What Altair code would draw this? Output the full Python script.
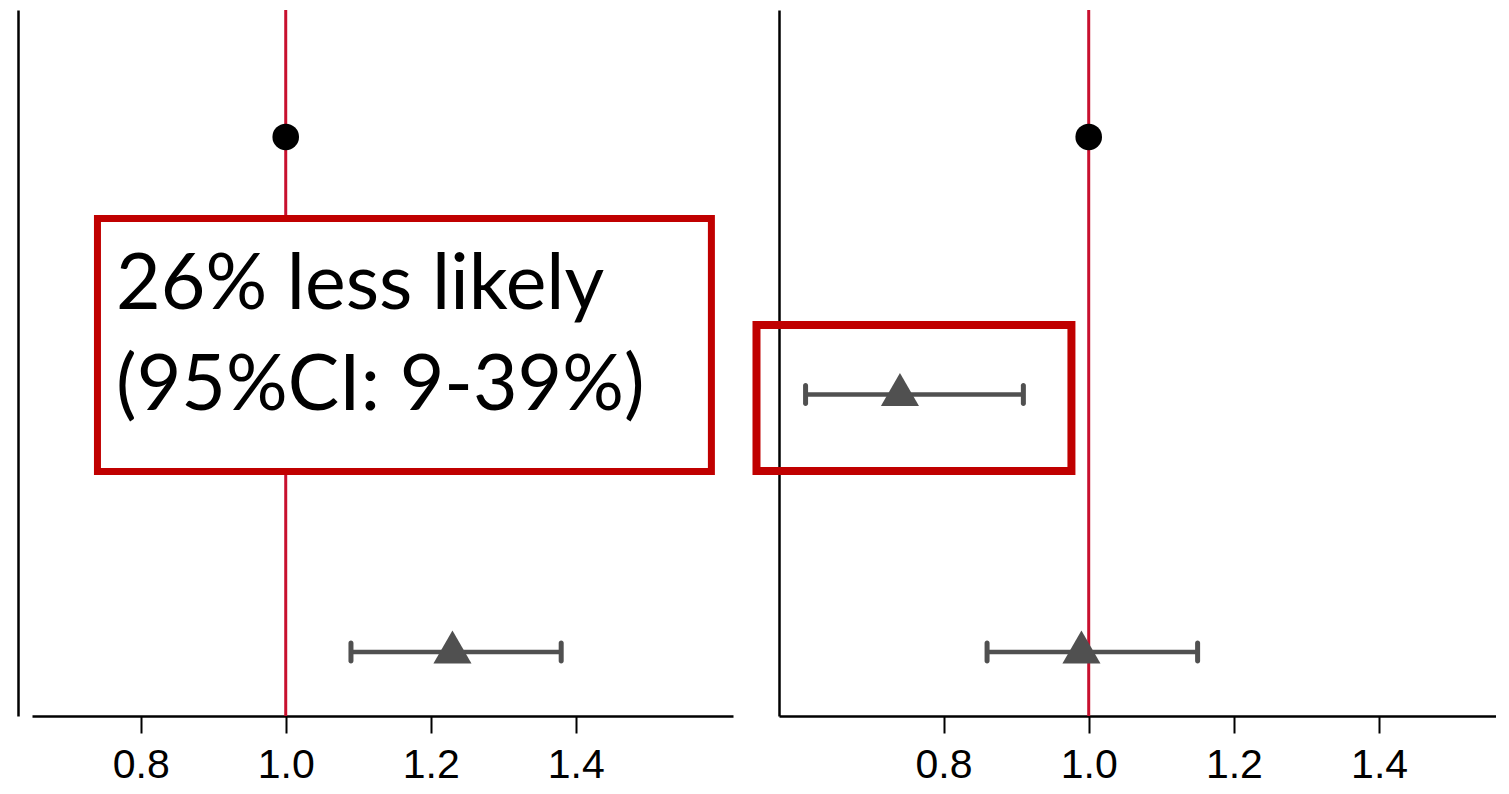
import altair as alt
import pandas as pd

# ---- data ----
row_names = ["Reference", "Middle", "Bottom"]
row_pos = [3, 2, 1]

left_ref_est = [1.0]
left_ref_row = [3]
left_est = [1.23]
left_lo = [1.09]
left_hi = [1.38]
left_row = [1]

right_ref_est = [1.0]
right_ref_row = [3]
right_est = [0.74, 0.99]
right_lo = [0.61, 0.86]
right_hi = [0.91, 1.15]
right_row = [2, 1]

tick_values = [0.8, 1.0, 1.2, 1.4]
left_domain = [0.65, 1.617]
right_domain = [0.5734, 1.561]
y_domain = [0.7515, 3.493]

note_lines = ["26% less likely", "(95%CI: 9-39%)"]
note_x = [0.766, 0.766]
note_y = [2.332, 1.940]

left_box = {"x": [0.7403], "x2": [1.5872], "y": [1.701], "y2": [2.6836]}
right_box = {"x": [0.5424], "x2": [0.9762], "y": [1.703], "y2": [2.270]}

RED_LINE = "#C8102E"
BOX_RED = "#C00000"
GREY = "#505050"


def panel(ref_est, ref_row, est, lo, hi, rows, xdom, width, box, box_fill, yoffset, note=False):
    xs = alt.Scale(domain=xdom, nice=False, zero=False)
    ys = alt.Scale(domain=y_domain, nice=False, zero=False)
    xaxis = alt.Axis(values=tick_values, format=".1f", title=None, grid=False,
                     tickSize=17, tickWidth=2, tickColor="black",
                     domainColor="black", domainWidth=2.5,
                     labelFontSize=41, labelFont="Liberation Sans",
                     labelColor="black", labelPadding=12)
    yaxis = alt.Axis(labels=False, ticks=False, title=None, grid=False,
                     domainColor="black", domainWidth=2.5, offset=yoffset)

    def X(f):
        return alt.X(f, type="quantitative", scale=xs, axis=xaxis)

    def Y(f):
        return alt.Y(f, type="quantitative", scale=ys, axis=yaxis)

    ref_df = pd.DataFrame({"est": ref_est, "row": ref_row})
    ci_df = pd.DataFrame({"est": est, "lo": lo, "hi": hi, "row": rows})
    caps_df = pd.DataFrame({"v": lo + hi, "row": rows + rows})
    box_df = pd.DataFrame(box)

    refline = alt.Chart(pd.DataFrame({"x": [1.0]})).mark_rule(
        color=RED_LINE, strokeWidth=3).encode(x=X("x"))
    circ = alt.Chart(ref_df).mark_circle(size=707, color="black", opacity=1).encode(
        x=X("est"), y=Y("row"))
    bars = alt.Chart(ci_df).mark_rule(color=GREY, strokeWidth=4.5).encode(
        x=X("lo"), x2="hi", y=Y("row"))
    caps = alt.Chart(caps_df).mark_tick(orient="vertical", size=23, thickness=5,
                                        color=GREY, opacity=1, cornerRadius=2.5).encode(
        x=X("v"), y=Y("row"))
    tri = alt.Chart(ci_df).mark_point(shape="triangle-up", filled=True, size=1450,
                                      color=GREY, opacity=1, yOffset=-5).encode(
        x=X("est"), y=Y("row"))
    if box_fill:
        rect = alt.Chart(box_df).mark_rect(fill="white", stroke=BOX_RED, strokeWidth=7)
    else:
        rect = alt.Chart(box_df).mark_rect(fill="white", fillOpacity=0, stroke=BOX_RED,
                                           strokeWidth=8)
    rect = rect.encode(x=X("x"), x2="x2", y=Y("y"), y2="y2")

    layers = [refline, circ, bars, caps, tri, rect]
    if note:
        note_df = pd.DataFrame({"t": note_lines, "x": note_x, "y": note_y})
        txt = alt.Chart(note_df).mark_text(align="left", baseline="alphabetic",
                                           font="Lato", fontSize=77, color="black").encode(
            x=X("x"), y=Y("y"), text="t:N")
        layers.append(txt)
    return alt.layer(*layers).properties(width=width, height=706)


left = panel(left_ref_est, left_ref_row, left_est, left_lo, left_hi, left_row,
             left_domain, 701, left_box, True, 14, note=True)
right = panel(right_ref_est, right_ref_row, right_est, right_lo, right_hi, right_row,
              right_domain, 717, right_box, False, 0)

chart = alt.hconcat(left, right, spacing=19).properties(
    padding={"left": 10, "top": 0, "right": 0, "bottom": 0},
    background="white",
).configure_view(stroke=None)

chart.save("out.html", embed_options={"renderer": "svg", "actions": False})
